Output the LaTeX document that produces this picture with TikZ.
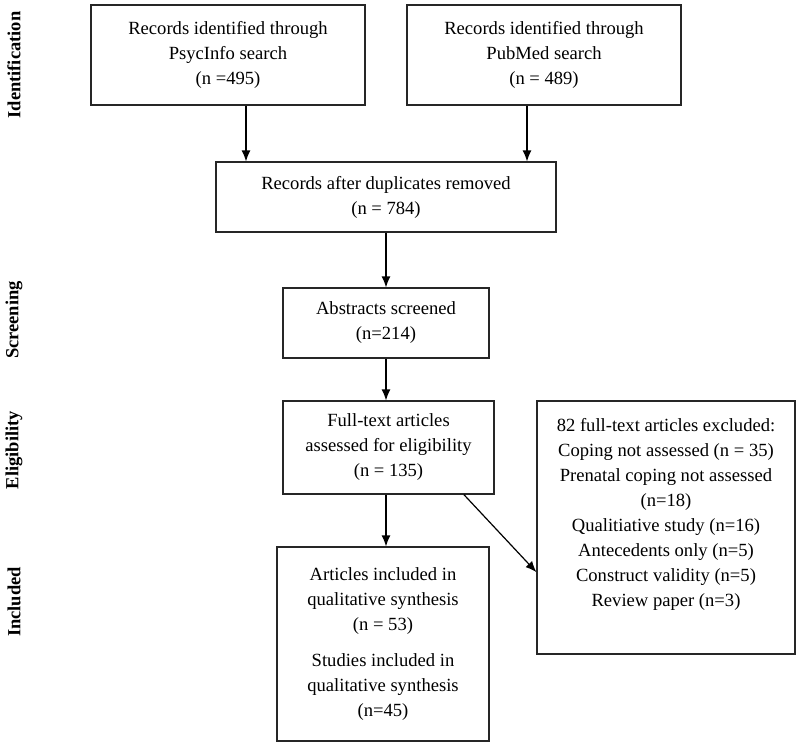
\documentclass[tikz,border=0pt]{standalone}
\usepackage{fontspec}
\setmainfont{Liberation Serif}
\usepackage{tikz}
\usetikzlibrary{arrows.meta}

\begin{document}
\begin{tikzpicture} [
    x=1pt, y=-1pt,
    >={Latex[length=11pt, width=9pt]},
    block/.style = { rectangle, draw=black!85, line width=1.2pt,
                     align=center, inner sep=0pt,
                     font=\fontsize{18.6}{25}\selectfont},
    phase/.style = { rotate=90, inner sep=0pt,
                     font=\fontsize{18.5}{20}\selectfont\bfseries},
    line/.style  = { draw, line width=1.2pt, ->},
  ]

\useasboundingbox (0,0) rectangle (800,747);

%Phasen (links)
\node[phase] (ident) at (14,65)  {Identification};
\node[phase] (scree) at (14,320) {Screening};
\node[phase] (eligi) at (14,450) {Eligibility};
\node[phase] (inclu) at (14,602) {Included};

%%%%%%%%%%%%%%%%%%%%%%%%%%%%%%%%%%%%%%%%%%
\node[block, minimum width=274pt, minimum height=100pt] (psyc) at (228,55)
     {Records identified through\\ PsycInfo search\\ (n =495)};
\node[block, minimum width=274pt, minimum height=100pt] (pubm) at (544,55)
     {Records identified through\\ PubMed search\\ (n = 489)};
\node[block, minimum width=340pt, minimum height=70pt] (dupl) at (386,197)
     {Records after duplicates removed\\ (n = 784)};

%%%%%%%%%%%%%%%%%%%%%%%%%%%%%%%%%%%%%%%%%%
\node[block, minimum width=206pt, minimum height=70pt] (abst) at (386,323)
     {Abstracts screened\\ (n=214)};

%%%%%%%%%%%%%%%%%%%%%%%%%%%%%%%%%%%%%%%%%%
\node[block, minimum width=211pt, minimum height=93pt] (full) at (388.5,447.5)
     {Full-text articles\\ assessed for eligibility\\ (n = 135)};
\node[block, minimum width=258pt, minimum height=253pt] (excl) at (666,527.5) {};
\node[block, draw=none, anchor=north] (excltxt) at ([yshift=-17pt]excl.north)
     {82 full-text articles excluded:\\
      Coping not assessed (n = 35)\\
      Prenatal coping not assessed\\
      (n=18)\\
      Qualitiative study (n=16)\\
      Antecedents only (n=5)\\
      Construct validity (n=5)\\
      Review paper (n=3)};

%%%%%%%%%%%%%%%%%%%%%%%%%%%%%%%%%%%%%%%%%%
\node[block, minimum width=212pt, minimum height=194pt] (incl) at (383,644)
     {Articles included in\\ qualitative synthesis\\ (n = 53)\\[11pt]
      Studies included in\\ qualitative synthesis\\ (n=45)};

%Pfeile
  \begin{scope} [every path/.style={line}]
   \path ([xshift=18pt]psyc.south) -- ([xshift=18pt]psyc.south |- dupl.north);
   \path ([xshift=-17pt]pubm.south) -- ([xshift=-17pt]pubm.south |- dupl.north);
   \path (dupl.south) -- (dupl.south |- abst.north);
   \path (abst.south) -- (abst.south |- full.north);
   \path (full.south -| abst) -- (incl.north -| abst);
   \path (full.-32) -- (excl.199);
  \end{scope}
\end{tikzpicture}
\end{document}
